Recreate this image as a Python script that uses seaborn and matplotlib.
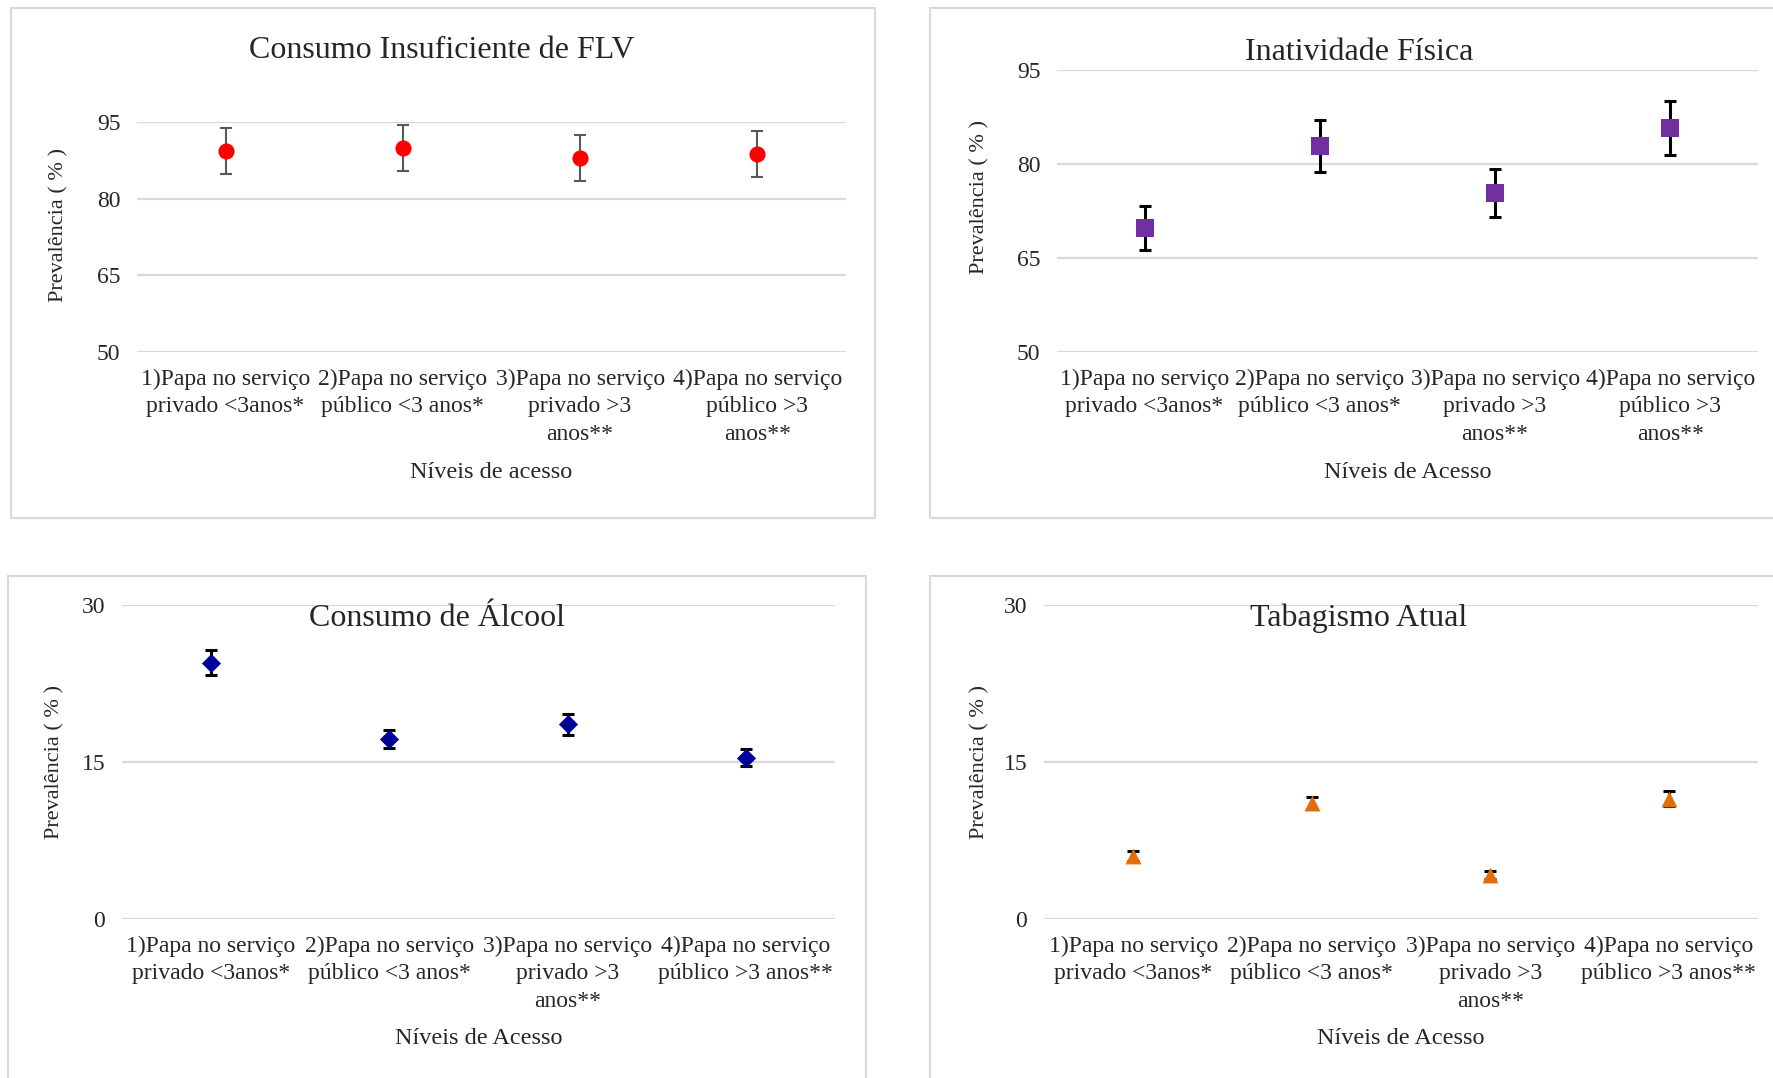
import pandas as pd
import seaborn as sns
import matplotlib.pyplot as plt
from matplotlib.patches import Rectangle
from matplotlib.transforms import blended_transform_factory

# Categories (x tick labels)
labels_top = ['1)Papa no serviço\nprivado <3anos*', '2)Papa no serviço\npúblico <3 anos*',
              '3)Papa no serviço\nprivado >3\nanos**', '4)Papa no serviço\npúblico >3\nanos**']
labels_bottom = ['1)Papa no serviço\nprivado <3anos*', '2)Papa no serviço\npúblico <3 anos*',
                 '3)Papa no serviço\nprivado >3\nanos**', '4)Papa no serviço\npúblico >3 anos**']

# Prevalence values and error half-widths
flv = [89.3, 89.9, 88.0, 88.8]
flv_err = [4.5, 4.5, 4.5, 4.5]
inat = [69.8, 82.9, 75.4, 85.8]
inat_err = [3.5, 4.1, 3.8, 4.3]
alcool = [24.5, 17.2, 18.6, 15.4]
alcool_err = [1.2, 0.9, 1.0, 0.8]
tabaco = [6.0, 11.1, 4.2, 11.5]
tabaco_err = [0.5, 0.6, 0.4, 0.7]

sns.set_style('white')
plt.rcParams['font.family'] = ['Liberation Serif', 'DejaVu Serif']

W, H = 1774, 1078
fig = plt.figure(figsize=(W / 100, H / 100), dpi=100)

# panel frames (light grey borders)
for (x0, y0, x1, y1) in [(11, 8, 875, 518), (930, 8, 1800, 518),
                         (8, 576, 866, 1100), (930, 576, 1800, 1100)]:
    fig.patches.append(Rectangle((x0 / W, 1 - y1 / H), (x1 - x0) / W, (y1 - y0) / H,
                                 transform=fig.transFigure, fill=False,
                                 edgecolor='#D9D9D9', lw=1.5, zorder=0))

panels = [
    dict(rect=(137, 122, 846, 352), vals=flv, err=flv_err, labels=labels_top,
         marker='o', ms=135, color='#FF0000', ecolor='#595959', elw=1.5,
         ylim=(50, 95), ticks=[50, 65, 80, 95], title='Consumo Insuficiente de FLV',
         title_xy=(442, 50), xlabel='Níveis de acesso', xlabel_y=472,
         ylabel_xy=(59, 0.552)),
    dict(rect=(1057, 70, 1758, 352), vals=inat, err=inat_err, labels=labels_top,
         marker='s', ms=150, color='#7030A0', ecolor='black', elw=2.2,
         ylim=(50, 95), ticks=[50, 65, 80, 95], title='Inatividade Física',
         title_xy=(1359, 53), xlabel='Níveis de Acesso', xlabel_y=472,
         ylabel_xy=(980, 0.55)),
    dict(rect=(122, 605, 835, 919), vals=alcool, err=alcool_err, labels=labels_bottom,
         marker='D', ms=95, color='#000099', ecolor='black', elw=2.2,
         ylim=(0, 30), ticks=[0, 15, 30], title='Consumo de Álcool',
         title_xy=(437, 618), xlabel='Níveis de Acesso', xlabel_y=1039,
         ylabel_xy=(55, 0.5)),
    dict(rect=(1044, 605, 1758, 919), vals=tabaco, err=tabaco_err, labels=labels_bottom,
         marker='^', ms=130, color='#E46C0A', ecolor='black', elw=2.2,
         ylim=(0, 30), ticks=[0, 15, 30], title='Tabagismo Atual',
         title_xy=(1359, 618), xlabel='Níveis de Acesso', xlabel_y=1039,
         ylabel_xy=(980, 0.5)),
]

for p in panels:
    x0, y0, x1, y1 = p['rect']
    ax = fig.add_axes([x0 / W, 1 - y1 / H, (x1 - x0) / W, (y1 - y0) / H])
    df = pd.DataFrame({'pos': range(4), 'val': p['vals'], 'err': p['err']})

    ax.errorbar(df['pos'], df['val'], yerr=df['err'], fmt='none', ecolor=p['ecolor'],
                elinewidth=p['elw'], capsize=4.5, capthick=p['elw'], zorder=2)
    sns.scatterplot(data=df, x='pos', y='val', marker=p['marker'], s=p['ms'],
                    color=p['color'], edgecolor=p['color'], linewidth=0, ax=ax, zorder=3)

    ax.set_xlim(-0.5, 3.5)
    ax.set_ylim(*p['ylim'])
    ax.set_yticks(p['ticks'])
    ax.set_xticks(range(4))
    ax.set_xticklabels(p['labels'], fontsize=17, linespacing=1.4)
    ax.tick_params(axis='both', length=0, labelsize=17)
    ax.tick_params(axis='y', pad=12)
    ax.tick_params(axis='x', pad=12)
    ax.grid(axis='y', color='#D9D9D9', lw=1.6)
    ax.set_axisbelow(True)
    for s in ax.spines.values():
        s.set_visible(False)

    ax.set_xlabel(p['xlabel'], fontsize=17.5, va='center')
    ax.xaxis.set_label_coords(((x0 + x1) / 2) / W, 1 - p['xlabel_y'] / H,
                              transform=fig.transFigure)
    ax.set_ylabel('Prevalência ( % )', fontsize=16, va='center')
    lx, ly = p['ylabel_xy']
    ax.yaxis.set_label_coords(lx / W, ly,
                              transform=blended_transform_factory(fig.transFigure, ax.transAxes))

    tx, ty = p['title_xy']
    fig.text(tx / W, 1 - ty / H, p['title'], fontsize=23, ha='center', va='center')

fig.savefig('out.png', dpi=100)
